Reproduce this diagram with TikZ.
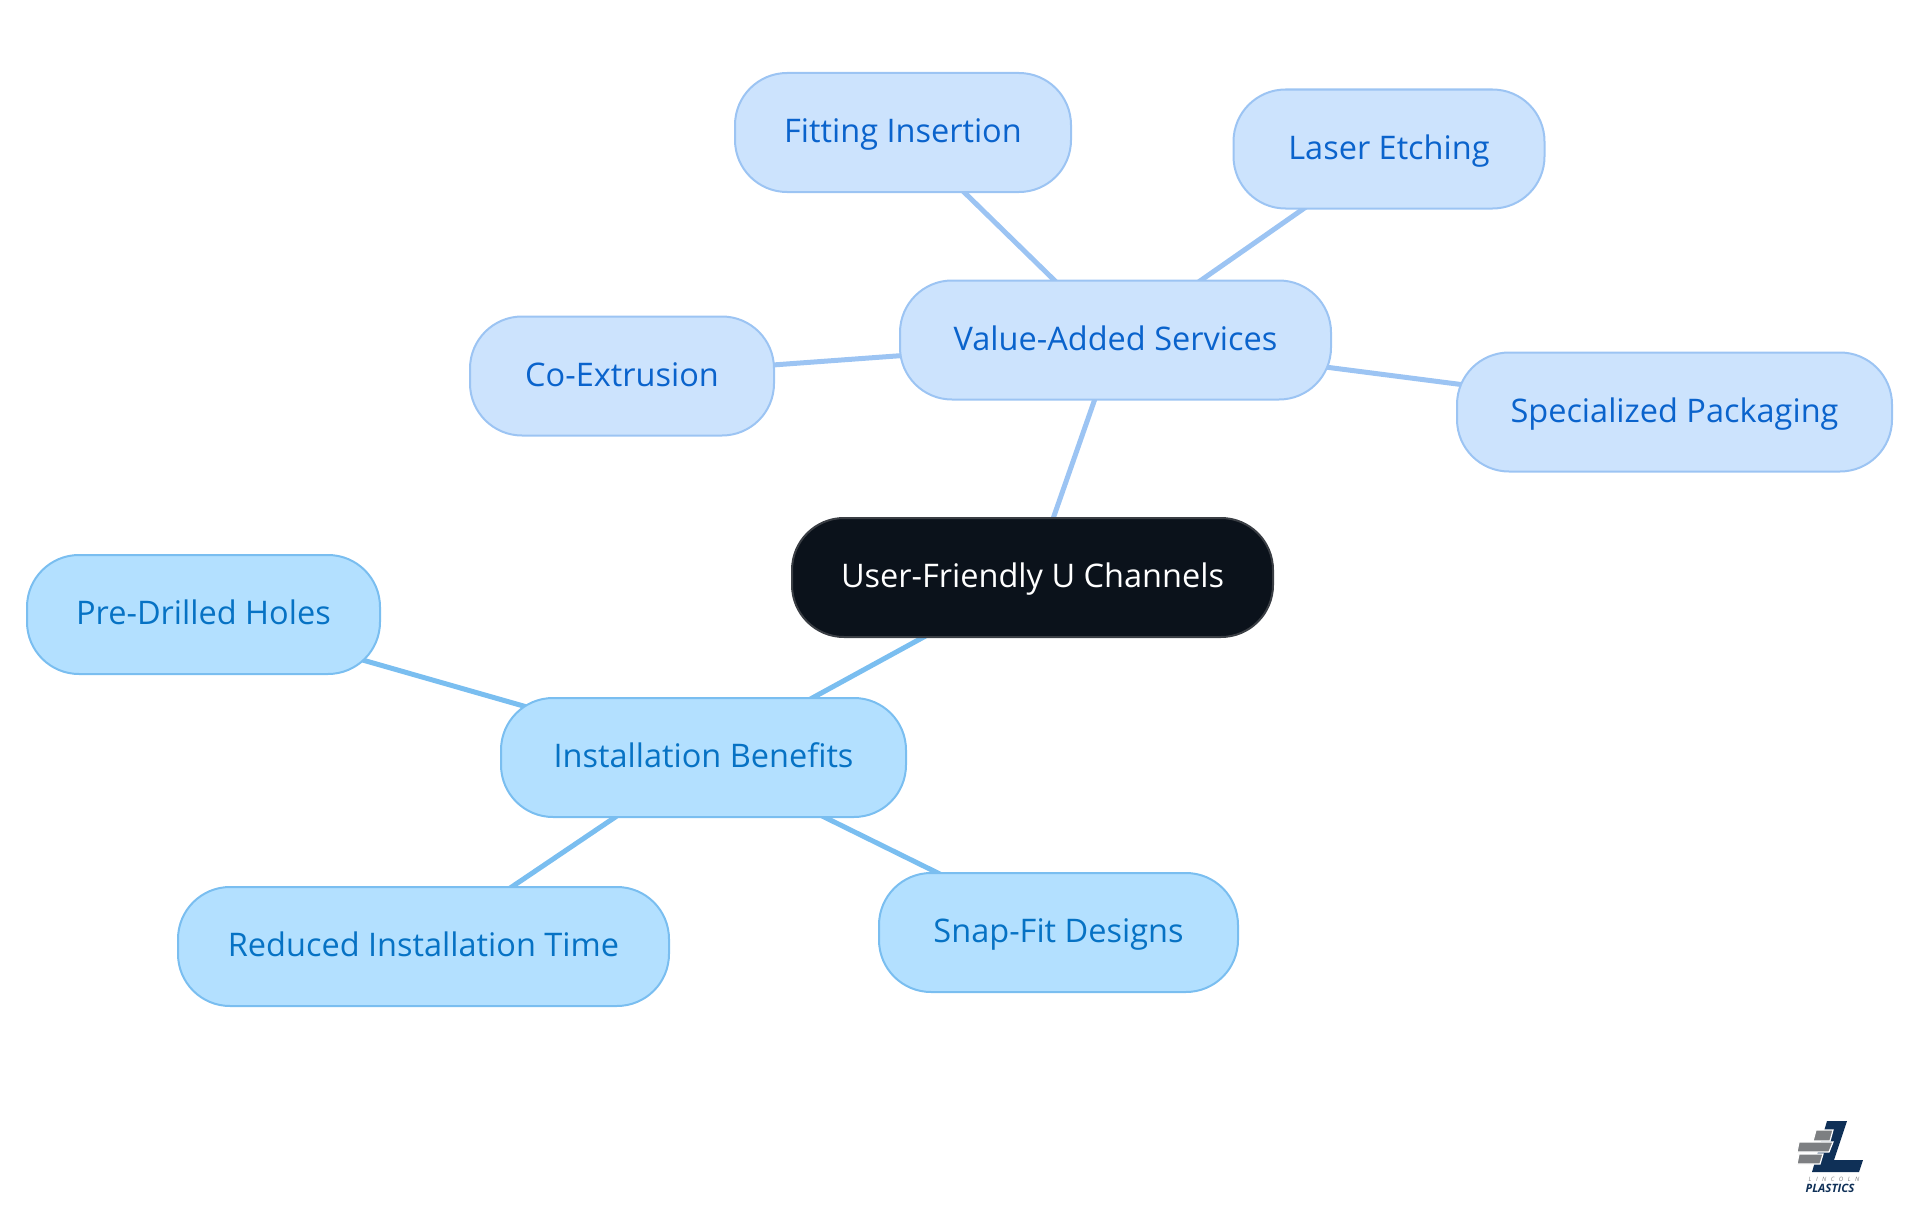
\documentclass[tikz,border=0pt]{standalone}
\usepackage{fontspec}
\setmainfont{Open Sans}
\usetikzlibrary{backgrounds}
\definecolor{upfill}{HTML}{CCE3FD}
\definecolor{upline}{HTML}{9CC4F3}
\definecolor{uptext}{HTML}{0A63CC}
\definecolor{lofill}{HTML}{B3E0FF}
\definecolor{loline}{HTML}{7ABEF0}
\definecolor{lotext}{HTML}{0672C4}
\definecolor{rootfill}{HTML}{0B121B}
\definecolor{rootline}{HTML}{3A3E44}
\definecolor{logoblue}{HTML}{0F3057}
\definecolor{logogray}{HTML}{7D7F82}
\tikzset{x=1pt,y=-1pt,
  boxbase/.style={rounded corners=52pt,line width=2pt,minimum height=119pt,inner sep=0pt,text height=30pt,text depth=10pt,font=\fontsize{32.5}{38}\selectfont},
  upbox/.style={boxbase,draw=upline,fill=upfill,text=uptext},
  lobox/.style={boxbase,draw=loline,fill=lofill,text=lotext},
  rootbox/.style={boxbase,draw=rootline,fill=rootfill,text=white},
  upedge/.style={draw=upline,line width=5pt},
  loedge/.style={draw=loline,line width=5pt},
  logobar/.style={fill=logogray,draw=white,line width=1.2pt}}
\begin{document}
\begin{tikzpicture}
\useasboundingbox (0,0) rectangle (1920,1215);
\node[rootbox,minimum width=481pt] (root) at (1032.5,577.5) {User-Friendly U Channels};
\node[upbox,minimum width=431pt] (value) at (1115.5,340) {Value-Added Services};
\node[upbox,minimum width=336pt] (fit) at (903,132.5) {Fitting Insertion};
\node[upbox,minimum width=311pt] (laser) at (1389,149) {Laser Etching};
\node[upbox,minimum width=304pt] (coex) at (622,376) {Co-Extrusion};
\node[upbox,minimum width=435pt] (pack) at (1674.5,412) {Specialized Packaging};
\node[lobox,minimum width=405pt] (inst) at (703.5,757.5) {Installation Benefits};
\node[lobox,minimum width=353pt] (pre) at (203.5,614.5) {Pre-Drilled Holes};
\node[lobox,minimum width=491pt] (red) at (423.5,946.5) {Reduced Installation Time};
\node[lobox,minimum width=359pt] (snap) at (1058.5,932.5) {Snap-Fit Designs};
\begin{scope}[on background layer]
\draw[upedge] (root.center) -- (value.center);
\draw[upedge] (value.center) -- (fit.center);
\draw[upedge] (value.center) -- (laser.center);
\draw[upedge] (value.center) -- (coex.center);
\draw[upedge] (value.center) -- (pack.center);
\draw[loedge] (root.center) -- (inst.center);
\draw[loedge] (inst.center) -- (pre.center);
\draw[loedge] (inst.center) -- (red.center);
\draw[loedge] (inst.center) -- (snap.center);
\end{scope}
% logo
\fill[logoblue] (1827,1121) -- (1847,1121) -- (1834,1160) -- (1863,1160) -- (1859,1172) -- (1812,1172) -- cycle;
\path[logobar] (1816,1130) -- (1833,1130) -- (1830,1141) -- (1813,1141) -- cycle;
\path[logobar] (1799,1142) -- (1833,1142) -- (1829,1152) -- (1797,1152) -- cycle;
\path[logobar] (1799,1154) -- (1823,1154) -- (1820,1164) -- (1797,1164) -- cycle;
\node[inner sep=0pt,text=logogray,font=\fontsize{6}{7}\selectfont\itshape] (lincoln) at (1834,1179) {L\hspace{4.5pt}I\hspace{4.5pt}N\hspace{4.5pt}C\hspace{4.5pt}O\hspace{4.5pt}L\hspace{4.5pt}N};
\node[inner sep=0pt,text=logoblue,font=\fontsize{11.5}{13}\selectfont\bfseries\itshape] (plastics) at (1830,1188.5) {PLASTICS};
\end{tikzpicture}
\end{document}
